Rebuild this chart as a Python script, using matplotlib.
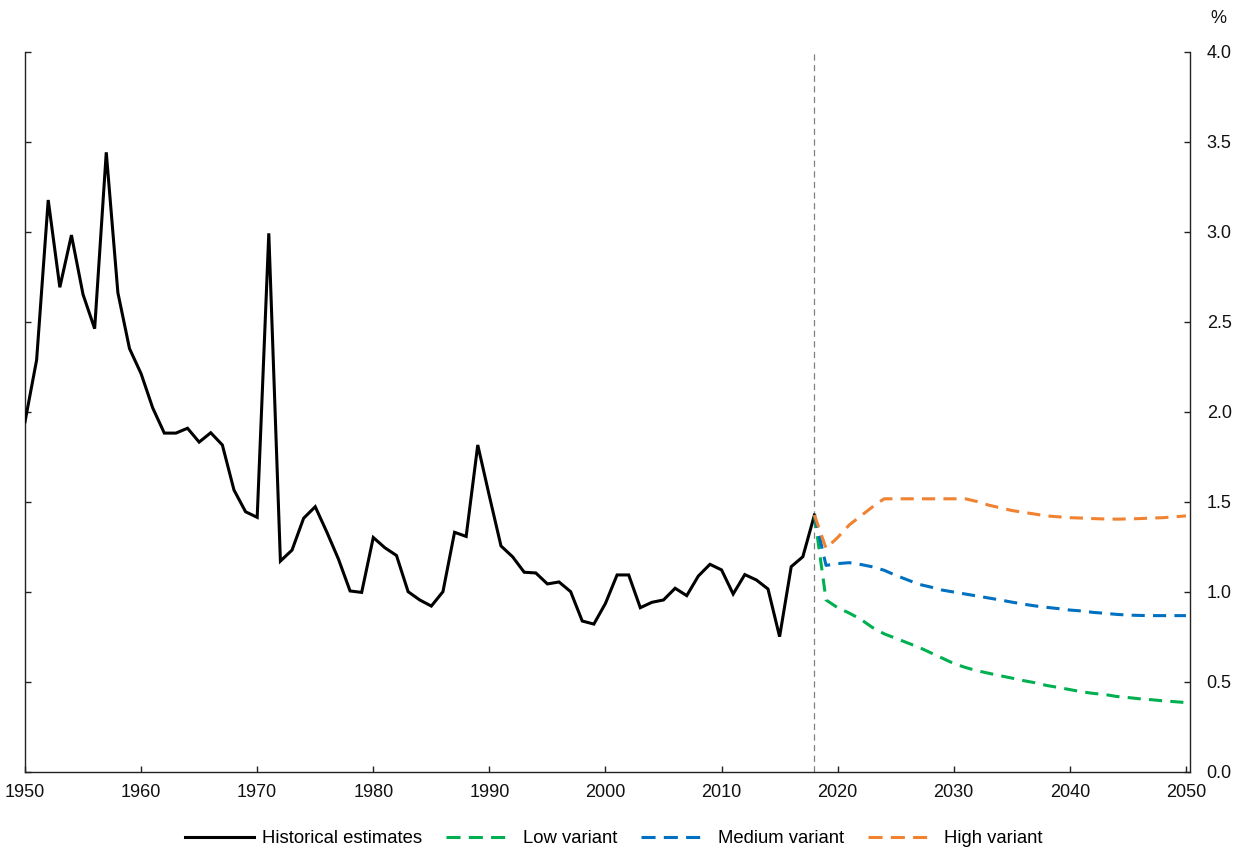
import matplotlib
matplotlib.use("Agg")
import matplotlib.pyplot as plt
from matplotlib.lines import Line2D

plt.rcParams['font.family'] = ['Liberation Sans', 'DejaVu Sans']

hist_years = list(range(1950, 2019))
hist_values = [
    1.943, 2.286, 3.175, 2.69, 2.98, 2.65, 2.46, 3.44, 2.66, 2.35,
    2.21, 2.02, 1.88, 1.88, 1.907, 1.83, 1.882, 1.814, 1.564, 1.443,
    1.412, 2.99, 1.169, 1.23, 1.407, 1.471, 1.33, 1.18, 1.003, 0.995,
    1.30, 1.243, 1.20, 0.999, 0.953, 0.919, 0.999, 1.329, 1.306, 1.814,
    1.53, 1.253, 1.193, 1.107, 1.103, 1.042, 1.053, 0.999, 0.836, 0.819,
    0.934, 1.092, 1.092, 0.91, 0.94, 0.953, 1.018, 0.977, 1.086, 1.151,
    1.12, 0.986, 1.094, 1.064, 1.014, 0.749, 1.138, 1.193, 1.425,
]

proj_years = list(range(2018, 2051))
low_values = [
    1.425, 0.953, 0.91, 0.88, 0.845, 0.80, 0.765, 0.74, 0.715, 0.69,
    0.66, 0.63, 0.60, 0.578, 0.56, 0.546, 0.532, 0.519, 0.505, 0.493,
    0.478, 0.467, 0.455, 0.443, 0.434, 0.428, 0.417, 0.411, 0.404, 0.399,
    0.393, 0.388, 0.383,
]
medium_values = [
    1.425, 1.145, 1.155, 1.16, 1.15, 1.137, 1.118, 1.09, 1.065, 1.04,
    1.025, 1.008, 0.997, 0.986, 0.975, 0.964, 0.953, 0.941, 0.93, 0.92,
    0.912, 0.905, 0.897, 0.892, 0.884, 0.879, 0.873, 0.869, 0.867, 0.866,
    0.866, 0.866, 0.866,
]
high_values = [
    1.425, 1.24, 1.30, 1.37, 1.42, 1.47, 1.515, 1.515, 1.515, 1.515,
    1.515, 1.515, 1.515, 1.515, 1.50, 1.48, 1.465, 1.45, 1.44, 1.43,
    1.42, 1.415, 1.41, 1.408, 1.405, 1.403, 1.402, 1.403, 1.405, 1.408,
    1.41, 1.415, 1.42,
]

series_labels = ["Historical estimates", "Low variant", "Medium variant", "High variant"]
x_ticks = list(range(1950, 2051, 10))
y_ticks = [0.0, 0.5, 1.0, 1.5, 2.0, 2.5, 3.0, 3.5, 4.0]
divider_year = 2018

c_black = "#000000"
c_low = "#00B050"
c_med = "#0070C0"
c_high = "#F08232"
dash = (4.3, 2.7)
legend_dash = (4.6, 2.7, 4.6, 2.7, 4.6, 6.0)

W, H = 1242, 848
fig = plt.figure(figsize=(W / 100, H / 100), dpi=100)
ax = fig.add_axes([25 / W, (H - 771.5) / H, (1190 - 25) / W, (771.5 - 51.5) / H])

ax.axvline(divider_year, color="#808080", lw=0.9, ls=(0, (5, 3.5)), zorder=1)

ax.plot(hist_years, hist_values, color=c_black, lw=2.2, zorder=3,
        solid_joinstyle="miter", label=series_labels[0])
l_low, = ax.plot(proj_years, low_values, color=c_low, lw=2.2, zorder=3,
                 label=series_labels[1])
l_med, = ax.plot(proj_years, medium_values, color=c_med, lw=2.2, zorder=4,
                 label=series_labels[2])
l_high, = ax.plot(proj_years, high_values, color=c_high, lw=2.2, zorder=5,
                  label=series_labels[3])
for ln in (l_low, l_med, l_high):
    ln.set_dashes(dash)
    ln.set_dash_capstyle("butt")

ax.set_xlim(1950, 2050.35)
ax.set_ylim(0, 4.0)
ax.set_xticks(x_ticks)
ax.set_xticklabels([str(t) for t in x_ticks])
ax.set_yticks(y_ticks)
ax.set_yticklabels([f"{t:.1f}" for t in y_ticks])

for side in ("left", "right", "bottom"):
    ax.spines[side].set_color("#222222")
    ax.spines[side].set_linewidth(1.0)
ax.spines["top"].set_visible(False)

ax.tick_params(axis="both", direction="in", length=4.5, width=1.0,
               color="#222222", labelsize=13, labelcolor="#111111")
ax.tick_params(axis="y", left=True, right=True, labelleft=False,
               labelright=True, pad=12)
ax.tick_params(axis="x", pad=9)

fig.text(1218.5 / W, 1 - 18.5 / H, "%", ha="center", va="center",
         fontsize=13, color="#111111")

handles = [
    Line2D([], [], color=c_black, lw=2.2),
    Line2D([], [], color=c_low, lw=2.2, dashes=legend_dash, dash_capstyle="butt"),
    Line2D([], [], color=c_med, lw=2.2, dashes=legend_dash, dash_capstyle="butt"),
    Line2D([], [], color=c_high, lw=2.2, dashes=legend_dash, dash_capstyle="butt"),
]
fig.legend(handles, series_labels, loc="center", ncol=4,
           bbox_to_anchor=(614 / W, 1 - 838.5 / H), frameon=False,
           fontsize=13.3, handlelength=3.75, handletextpad=0.4,
           columnspacing=1.3, borderaxespad=0, borderpad=0)

fig.savefig("out.png", dpi=100)
